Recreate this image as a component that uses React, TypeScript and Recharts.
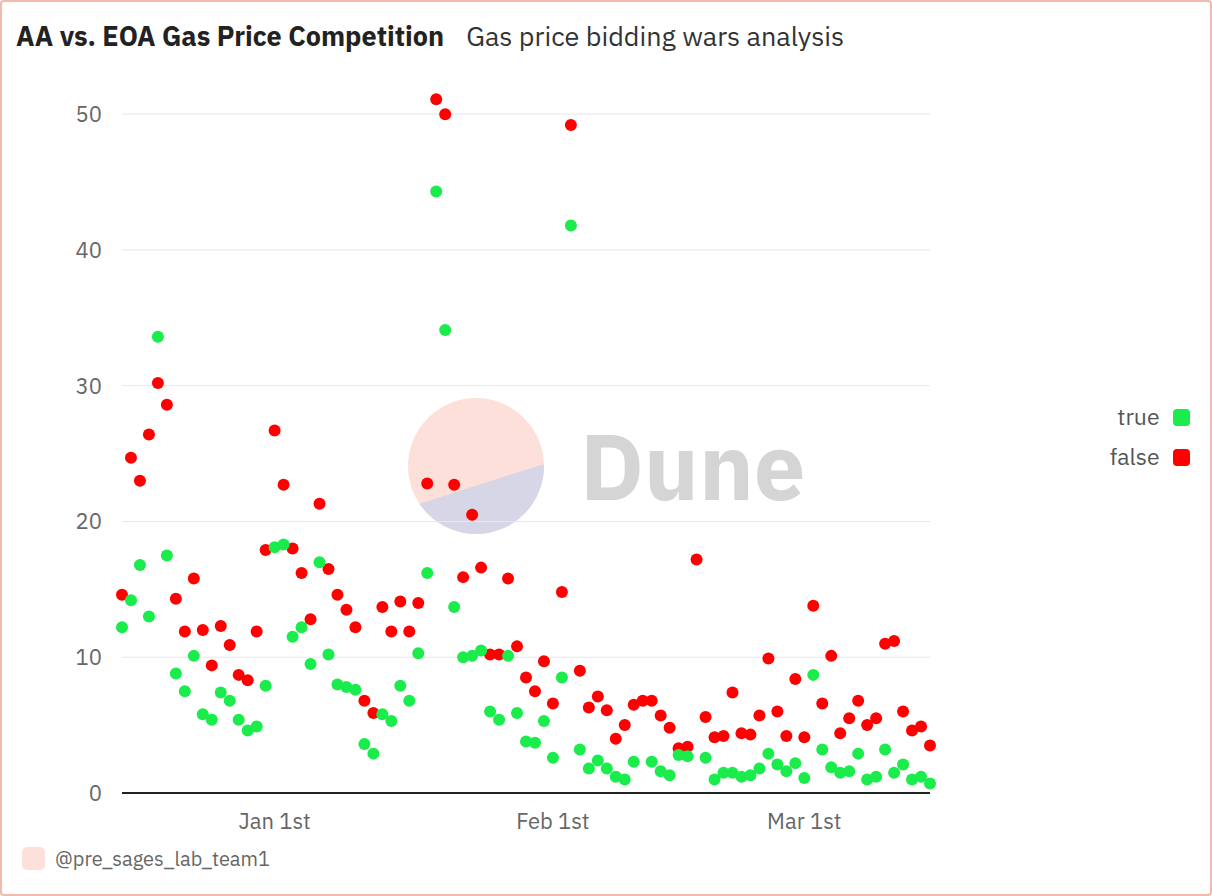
import React from "react";
import { ScatterChart, Scatter, XAxis, YAxis, CartesianGrid } from "recharts";

// day index 0 = Dec 15, 17 = Jan 1, 48 = Feb 1, 76 = Mar 1
const trueValues: (number | null)[] = [
  12.2, 14.2, 16.8, 13.0, 33.6, 17.5, 8.8, 7.5, 10.1, 5.8,
  5.4, 7.4, 6.8, 5.4, 4.6, 4.9, 7.9, 18.1, 18.3, 11.5,
  12.2, 9.5, 17.0, 10.2, 8.0, 7.8, 7.6, 3.6, 2.9, 5.8,
  5.3, 7.9, 6.8, 10.3, 16.2, 44.3, 34.1, 13.7, 10.0, 10.1,
  10.5, 6.0, 5.4, 10.1, 5.9, 3.8, 3.7, 5.3, 2.6, 8.5,
  41.8, 3.2, 1.8, 2.4, 1.8, 1.2, 1.0, 2.3, null, 2.3,
  1.6, 1.3, 2.8, 2.7, null, 2.6, 1.0, 1.5, 1.5, 1.2,
  1.3, 1.8, 2.9, 2.1, 1.6, 2.2, 1.1, 8.7, 3.2, 1.9,
  1.5, 1.6, 2.9, 1.0, 1.2, 3.2, 1.5, 2.1, 1.0, 1.2, 0.7,
];
const falseValues: (number | null)[] = [
  14.6, 24.7, 23.0, 26.4, 30.2, 28.6, 14.3, 11.9, 15.8, 12.0,
  9.4, 12.3, 10.9, 8.7, 8.3, 11.9, 17.9, 26.7, 22.7, 18.0,
  16.2, 12.8, 21.3, 16.5, 14.6, 13.5, 12.2, 6.8, 5.9, 13.7,
  11.9, 14.1, 11.9, 14.0, 22.8, 51.1, 50.0, 22.7, 15.9, 20.5,
  16.6, 10.2, 10.2, 15.8, 10.8, 8.5, 7.5, 9.7, 6.6, 14.8,
  49.2, 9.0, 6.3, 7.1, 6.1, 4.0, 5.0, 6.5, 6.8, 6.8,
  5.7, 4.8, 3.3, 3.4, 17.2, 5.6, 4.1, 4.2, 7.4, 4.4,
  4.3, 5.7, 9.9, 6.0, 4.2, 8.4, 4.1, 13.8, 6.6, 10.1,
  4.4, 5.5, 6.8, 5.0, 5.5, 11.0, 11.2, 6.0, 4.6, 4.9, 3.5,
];
const xTicks = [17, 48, 76];
const xTickLabels: Record<number, string> = { 17: "Jan 1st", 48: "Feb 1st", 76: "Mar 1st" };
const yTicks = [0, 10, 20, 30, 40, 50];

const trueData = trueValues.map((v, i) => ({ day: i, v })).filter((d) => d.v !== null);
const falseData = falseValues.map((v, i) => ({ day: i, v })).filter((d) => d.v !== null);

const font = "'IBM Plex Sans', 'Noto Sans', sans-serif";

export default function App() {
  return (
    <div style={{ position: "fixed", left: 0, top: 0, width: 1212, height: 896, fontFamily: font, background: "#fff", overflow: "hidden" }}>
      <div style={{ position: "absolute", left: 16, top: 18, fontSize: 27, color: "#222", whiteSpace: "nowrap" }}>
        <span style={{ fontWeight: 700 }}>AA vs. EOA Gas Price Competition</span>
        <span style={{ marginLeft: 22, color: "#333" }}>Gas price bidding wars analysis</span>
      </div>
      <svg style={{ position: "absolute", left: 0, top: 0 }} width={1212} height={896}>
        <defs>
          <clipPath id="wm"><circle cx={476} cy={466} r={68} /></clipPath>
        </defs>
        <circle cx={476} cy={466} r={68} fill="#fde0da" />
        <polygon points="400,510 544,464 560,560 400,560" fill="#d6d6e6" clipPath="url(#wm)" />
        <text x={580} y={500} fontSize={92} fontWeight={700} fill="#d5d5d5" fontFamily={font}>Dune</text>
      </svg>
      <div style={{ position: "absolute", left: 0, top: 0 }}>
        <ScatterChart width={1212} height={896} margin={{ top: 87, right: 282, left: 0, bottom: 0 }}>
          <CartesianGrid vertical={false} stroke="#e6e6ec" horizontalValues={[10, 20, 30, 40, 50]} />
          <XAxis
            type="number"
            dataKey="day"
            domain={[0, 90]}
            ticks={xTicks}
            tickFormatter={(d: number) => xTickLabels[d] ?? ""}
            height={103}
            tickLine={false}
            tickMargin={14}
            axisLine={{ stroke: "#222", strokeWidth: 2 }}
            tick={{ fontSize: 22, fill: "#666", fontFamily: font }}
          />
          <YAxis
            type="number"
            dataKey="v"
            domain={[0, 52]}
            ticks={yTicks}
            width={122}
            tickLine={false}
            axisLine={false}
            tickMargin={14}
            tick={{ fontSize: 22, fill: "#666", fontFamily: font }}
          />
          <Scatter data={falseData} fill="#ff0000" isAnimationActive={false} shape={(p: any) => <circle cx={p.cx} cy={p.cy} r={6} fill="#ff0000" />} />
          <Scatter data={trueData} fill="#19ec4b" isAnimationActive={false} shape={(p: any) => <circle cx={p.cx} cy={p.cy} r={6} fill="#19ec4b" />} />
        </ScatterChart>
      </div>
      <div style={{ position: "absolute", right: 22, top: 396, fontSize: 23, color: "#555", textAlign: "right", lineHeight: "40px" }}>
        <div>true <span style={{ display: "inline-block", width: 17, height: 17, background: "#19ec4b", borderRadius: 4, marginLeft: 8, verticalAlign: -1 }} /></div>
        <div>false <span style={{ display: "inline-block", width: 17, height: 17, background: "#ff0000", borderRadius: 4, marginLeft: 8, verticalAlign: -1 }} /></div>
      </div>
      <div style={{ position: "absolute", left: 22, top: 845, fontSize: 20, color: "#666", display: "flex", alignItems: "center" }}>
        <span style={{ display: "inline-block", width: 23, height: 23, background: "#fde0da", borderRadius: 5, marginRight: 10 }} />
        @pre_sages_lab_team1
      </div>
      <div style={{ position: "absolute", left: 0, top: 0, width: 1212, height: 896, border: "2px solid #f5b8ac", borderRadius: 4, boxSizing: "border-box", pointerEvents: "none", zIndex: 5 }} />
    </div>
  );
}
